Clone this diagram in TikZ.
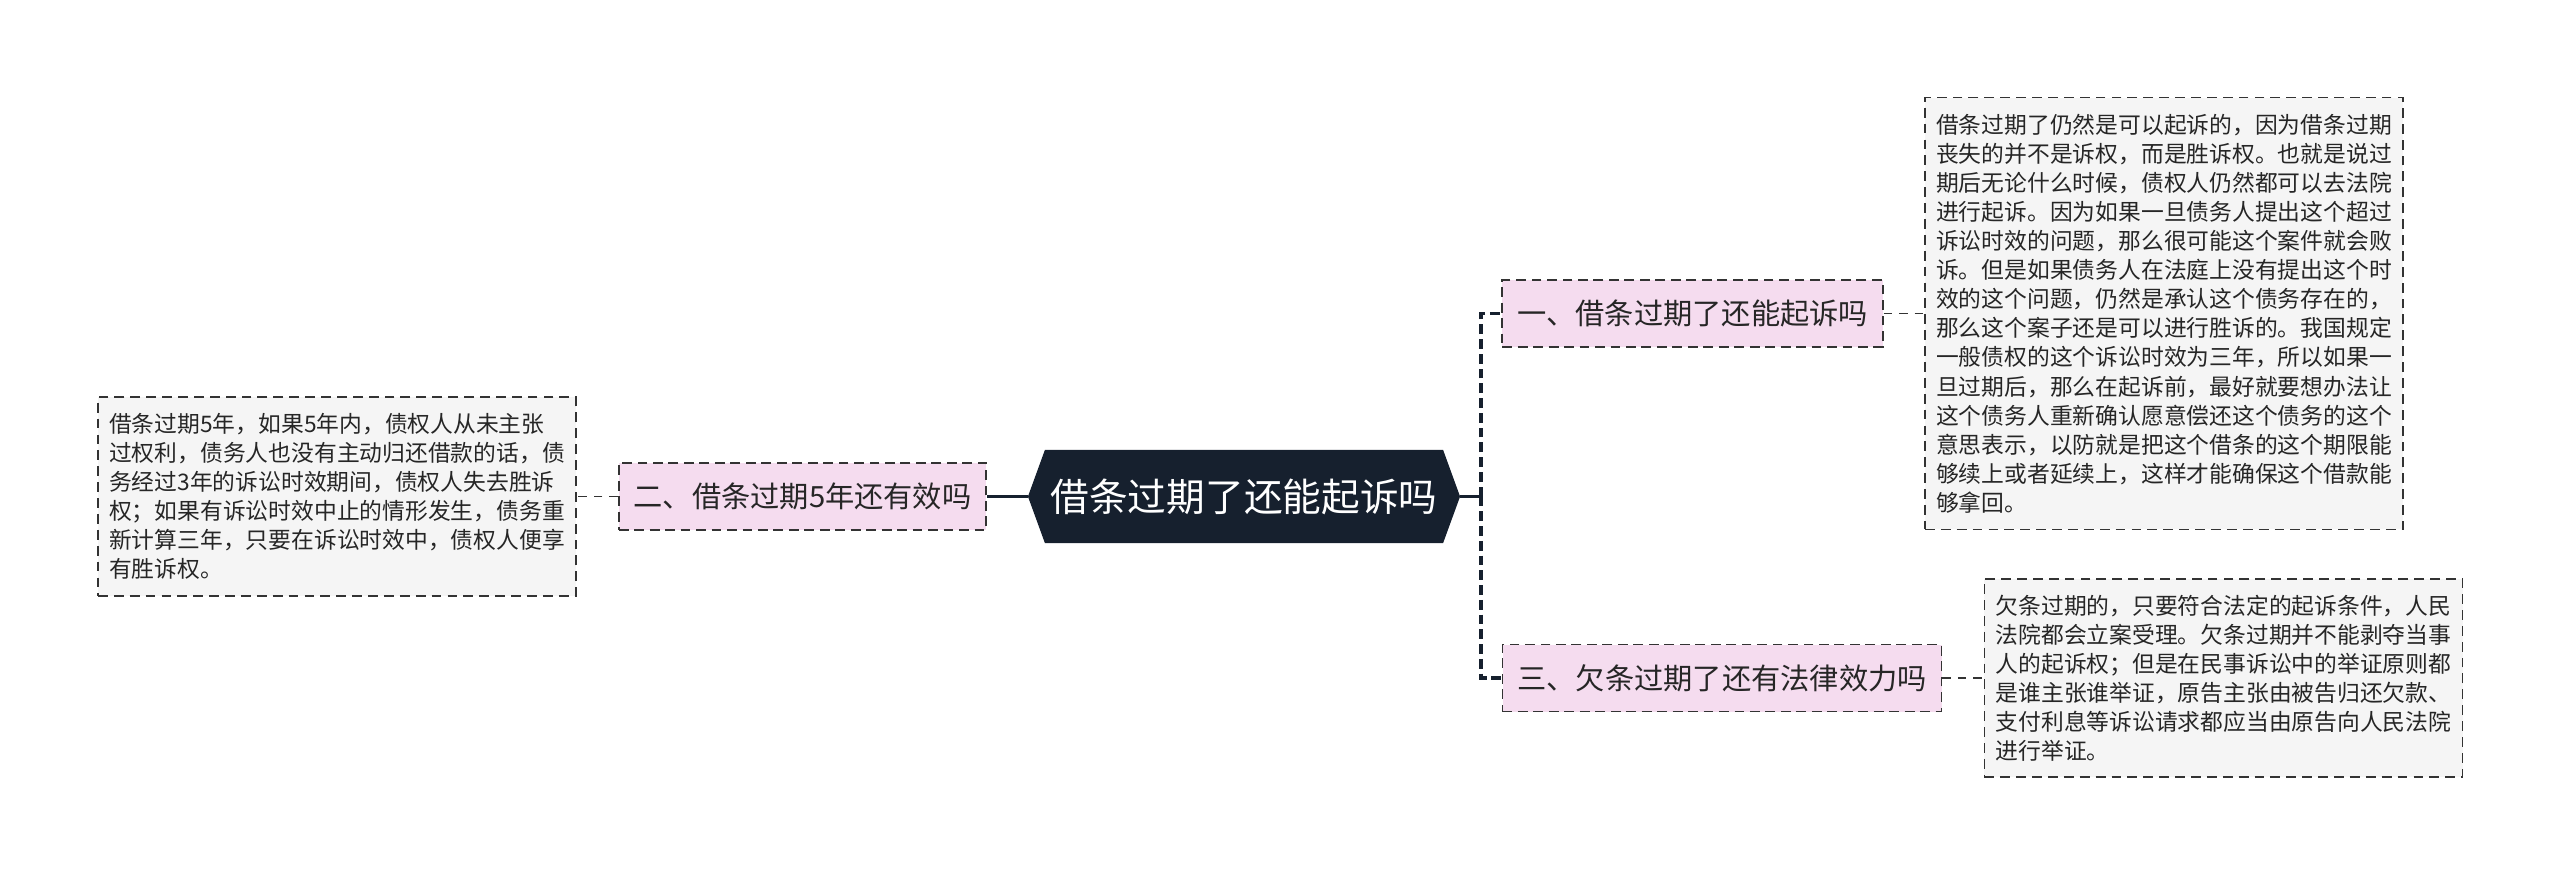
\documentclass[tikz,border=0pt]{standalone}
\usepackage{fontspec}
\setmainfont{Noto Sans CJK SC}
\usetikzlibrary{shapes.symbols}
\definecolor{rootbg}{HTML}{16202E}
\definecolor{pinkbg}{HTML}{F5DCEF}
\definecolor{leafbg}{HTML}{F5F5F5}
\definecolor{edgegray}{HTML}{333333}
\tikzset{
  rootnode/.style={signal, signal to=west and east, signal pointer angle=140,
    fill=rootbg, text=white, inner sep=0pt, minimum width=10.8cm,
    minimum height=2.325cm, font=\fontsize{27.5}{30}\selectfont},
  branchnode/.style={draw=edgegray, line width=1.3pt, dash pattern=on 7pt off 4pt,
    fill=pinkbg, text=black!85, inner xsep=10.5pt, inner ysep=0pt,
    minimum height=1.675cm, font=\fontsize{20.8}{24}\selectfont},
  leafnode/.style={draw=edgegray, line width=1.2pt, dash pattern=on 7pt off 4.3pt,
    fill=leafbg, text=black!85, align=left, inner xsep=8pt, inner ysep=11.5pt},
  trunk/.style={draw=rootbg, line width=2.2pt},
  trunkdash/.style={draw=rootbg, line width=2.8pt, dash pattern=on 7pt off 3.5pt},
  twig/.style={draw=edgegray, line width=1.3pt, dash pattern=on 6pt off 5pt}
}
\begin{document}
\begin{tikzpicture}[x=0.025cm,y=-0.025cm]
  \useasboundingbox (0,0) rectangle (2560,876);
  \node[rootnode] (root) at (1244,496.5) {借条过期了还能起诉吗};
  \node[branchnode] (br1) at (1692.5,313.5) {一、借条过期了还能起诉吗};
  \node[branchnode] (br2) at (802.5,496.5) {二、借条过期5年还有效吗};
  \node[branchnode] (br3) at (1722,678) {三、欠条过期了还有法律效力吗};
  \node[leafnode, font=\fontsize{16.2}{20.7}\selectfont] (leafa) at (2164,313.5)
    {借条过期了仍然是可以起诉的，因为借条过期\\
     丧失的并不是诉权，而是胜诉权。也就是说过\\
     期后无论什么时候，债权人仍然都可以去法院\\
     进行起诉。因为如果一旦债务人提出这个超过\\
     诉讼时效的问题，那么很可能这个案件就会败\\
     诉。但是如果债务人在法庭上没有提出这个时\\
     效的这个问题，仍然是承认这个债务存在的，\\
     那么这个案子还是可以进行胜诉的。我国规定\\
     一般债权的这个诉讼时效为三年，所以如果一\\
     旦过期后，那么在起诉前，最好就要想办法让\\
     这个债务人重新确认愿意偿还这个债务的这个\\
     意思表示，以防就是把这个借条的这个期限能\\
     够续上或者延续上，这样才能确保这个借款能\\
     够拿回。};
  \node[leafnode, font=\fontsize{16.2}{20.6}\selectfont] (leafb) at (337,496.5)
    {借条过期5年，如果5年内，债权人从未主张\\
     过权利，债务人也没有主动归还借款的话，债\\
     务经过3年的诉讼时效期间，债权人失去胜诉\\
     权；如果有诉讼时效中止的情形发生，债务重\\
     新计算三年，只要在诉讼时效中，债权人便享\\
     有胜诉权。};
  \node[leafnode, font=\fontsize{16.2}{20.6}\selectfont] (leafc) at (2223.5,678)
    {欠条过期的，只要符合法定的起诉条件，人民\\
     法院都会立案受理。欠条过期并不能剥夺当事\\
     人的起诉权；但是在民事诉讼中的举证原则都\\
     是谁主张谁举证，原告主张由被告归还欠款、\\
     支付利息等诉讼请求都应当由原告向人民法院\\
     进行举证。};
  \coordinate (spine) at (1481,496.5);
  \draw[trunk] (root.east) -- (spine);
  \draw[trunkdash] (spine) |- (br1.west);
  \draw[trunkdash] (spine) |- (br3.west);
  \draw[trunk] (root.west) -- (br2.east);
  \draw[twig] (br1.east) -- (leafa.west);
  \draw[twig] (br2.west) -- (leafb.east);
  \draw[twig] (br3.east) -- (leafc.west);
\end{tikzpicture}
\end{document}
